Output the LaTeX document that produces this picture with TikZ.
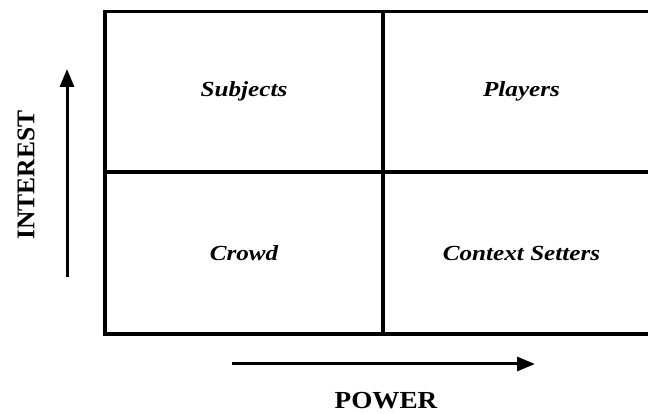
\documentclass[tikz,border=0pt]{standalone}
\usepackage{fontspec}
\setmainfont{Liberation Serif}
\newfontfamily\quadfont[FakeStretch=1.17]{Liberation Serif}
\newfontfamily\axisfont[FakeStretch=1.11]{Liberation Serif}
\usetikzlibrary{arrows.meta, positioning}

\begin{document}
\begin{tikzpicture}[
    x=1pt, y=1pt,
    cell/.style={rectangle, draw, line width=3.2pt, inner sep=0pt, outer sep=0pt, minimum width=278pt, minimum height=161pt, font=\quadfont\fontsize{21.5}{26}\selectfont\bfseries\itshape},
    axislabel/.style={font=\axisfont\fontsize{24.5}{29}\selectfont\bfseries},
    arrow/.style={-{Triangle[length=18pt, width=14pt]}, line width=3pt}
]
\clip (0,0) rectangle (648,414);

% Quadrants
\node[cell, minimum height=160.5pt] (subjects) at (244,322.25) {Subjects};
\node[cell, minimum width=277pt, minimum height=160.5pt] (players) at (521.5,322.25) {Players};
\node[cell, minimum height=162pt] (crowd) at (244,161) {Crowd};
\node[cell, minimum width=277pt, minimum height=162pt] (setters) at (521.5,161) {Context Setters};

% Axes
\coordinate (interest-tail) at (67,137);
\coordinate (interest-head) at (67,345);
\coordinate (power-tail) at (232,50);
\coordinate (power-head) at (535,50);
\draw[arrow] (interest-tail) -- (interest-head);
\draw[arrow] (power-tail) -- (power-head);

\node[axislabel] (power) at (386,13) {POWER};
\node[font=\fontsize{25.5}{30}\selectfont\bfseries, rotate=90] (interest) at (26,239) {INTEREST};

\end{tikzpicture}
\end{document}
